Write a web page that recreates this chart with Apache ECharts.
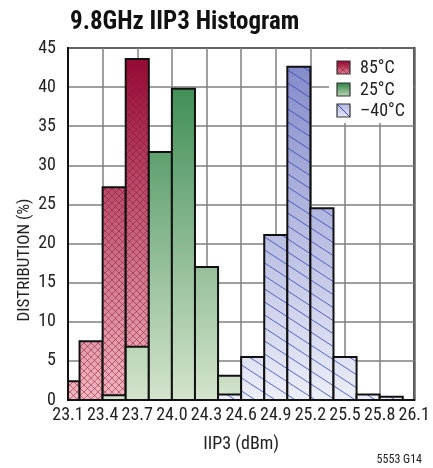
<!DOCTYPE html>
<html><head><meta charset="utf-8">
<script src="https://cdn.jsdelivr.net/npm/echarts@6/dist/echarts.min.js"></script>
<style>html,body{margin:0;padding:0;background:#fff}#c{width:433px;height:468px}</style>
</head><body><div id="c"></div>
<script>
// ---- data ----
const binCenters = [23.1, 23.3, 23.5, 23.7, 23.9, 24.1, 24.3, 24.5, 24.7, 24.9, 25.1, 25.3, 25.5, 25.7, 25.9];
const BIN_WIDTH = 0.2;
const t85 = [2.4, 7.5, 27.2, 43.6, 0, 0, 0, 0, 0, 0, 0, 0, 0, 0, 0];
const t25 = [0, 0, 0.6, 6.8, 31.7, 39.8, 17.0, 3.1, 0, 0, 0, 0, 0, 0, 0];
const tm40 = [0, 0, 0, 0, 0, 0, 0, 0.7, 5.5, 21.1, 42.6, 24.5, 5.5, 0.7, 0.4];
const seriesNames = ['85°C', '25°C', '\u201340°C'];
const xTicks = {min: 23.1, max: 26.1, interval: 0.3};
const yTicks = {min: 0, max: 45, interval: 5};

const FONT = "'Roboto Condensed', 'DejaVu Sans Condensed', sans-serif";

function makePattern(kind) {
  const cv = document.createElement('canvas');
  if (kind === 'cross') {
    const s = 7;
    cv.width = s; cv.height = s;
    const g = cv.getContext('2d');
    g.strokeStyle = 'rgba(150,10,50,0.5)';
    g.lineWidth = 1;
    g.beginPath();
    g.moveTo(0, 0); g.lineTo(s, s);
    g.moveTo(0, s); g.lineTo(s, 0);
    g.stroke();
  } else {
    const w = 20, h = 13;
    cv.width = w; cv.height = h;
    const g = cv.getContext('2d');
    g.strokeStyle = 'rgba(50,70,180,0.8)';
    g.lineWidth = 1;
    g.beginPath();
    for (let k = -1; k <= 1; k++) {
      g.moveTo(0, k * h); g.lineTo(w, k * h + h);
    }
    g.stroke();
  }
  return {image: cv, repeat: 'repeat'};
}

const styles = [
  {stops: [[0, '#920530'], [1, '#f0b8c0']], pattern: makePattern('cross')},
  {stops: [[0, '#2e8448'], [1, '#d4e4cc']], pattern: null},
  {stops: [[0, '#7f86c8'], [1, '#eceef8']], pattern: makePattern('diag')}
];

function makeRender(st) {
  return function (params, api) {
    const c = api.value(0), v = api.value(1);
    if (!v) return null;
    const x0 = Math.max(c - BIN_WIDTH / 2, xTicks.min);
    const x1 = Math.min(c + BIN_WIDTH / 2, xTicks.max);
    const p0 = api.coord([x0, v]);
    const p1 = api.coord([x1, 0]);
    const top = api.coord([xTicks.min, yTicks.max])[1];
    const bottom = api.coord([xTicks.min, 0])[1];
    const shape = {x: p0[0], y: p0[1], width: p1[0] - p0[0], height: p1[1] - p0[1]};
    const grad = {type: 'linear', x: 0, y: top, x2: 0, y2: bottom, global: true,
      colorStops: st.stops.map(s => ({offset: s[0], color: s[1]}))};
    const children = [{type: 'rect', shape: shape, style: {fill: grad}}];
    if (st.pattern) children.push({type: 'rect', shape: shape, style: {fill: st.pattern}});
    children.push({type: 'rect', shape: shape, style: {fill: 'none', stroke: '#111', lineWidth: 2}});
    return {type: 'group', children: children};
  };
}

const allData = [t85, t25, tm40];
const series = allData.map((arr, i) => ({
  type: 'custom',
  name: seriesNames[i],
  renderItem: makeRender(styles[i]),
  data: binCenters.map((c, j) => [c, arr[j]]),
  encode: {x: 0, y: 1},
  z: 2 + i
}));

// legend graphics
const legendItems = [];
const icoX = 337, icoY = [61, 83, 104], ico = 13;
const icoStops = [
  [[0, '#920530'], [1, '#e07f90']],
  [[0, '#2e8448'], [1, '#b8d4b0']],
  [[0, '#b0b6e4'], [1, '#e4e6f6']]
];
legendItems.push({type: 'rect', shape: {x: 329, y: 49, width: 84, height: 74}, style: {fill: '#fff'}, z: 1});
seriesNames.forEach((n, i) => {
  legendItems.push({type: 'rect', shape: {x: icoX, y: icoY[i], width: ico, height: ico},
    style: {fill: {type: 'linear', x: 0, y: 0, x2: 0, y2: 1, colorStops: icoStops[i].map(s => ({offset: s[0], color: s[1]}))}}, z: 2});
  if (i === 0) legendItems.push({type: 'rect', shape: {x: icoX, y: icoY[i], width: ico, height: ico}, style: {fill: styles[0].pattern}, z: 3});
  if (i === 2) legendItems.push({type: 'line', shape: {x1: icoX, y1: icoY[i], x2: icoX + ico, y2: icoY[i] + ico}, style: {stroke: '#3a4ab0', lineWidth: 1}, z: 3});
  legendItems.push({type: 'rect', shape: {x: icoX, y: icoY[i], width: ico, height: ico}, style: {fill: 'none', stroke: '#333', lineWidth: 1.2}, z: 4});
  legendItems.push({type: 'text', x: 360, y: icoY[i] + ico / 2 + 1, style: {text: n, font: '18px ' + FONT, fill: '#222', verticalAlign: 'middle', align: 'left'}, z: 4});
});

const chart = echarts.init(document.getElementById('c'), null, {renderer: 'canvas'});
chart.setOption({
  animation: false,
  backgroundColor: '#fff',
  title: {text: '9.8GHz IIP3 Histogram', left: 65, top: 5,
    textStyle: {fontFamily: FONT, fontSize: 25, fontWeight: 'bold', color: '#111'}},
  grid: {left: 68, right: 13, top: 48, bottom: 68, show: true, borderColor: '#111', borderWidth: 2, containLabel: false},
  xAxis: {
    type: 'value', min: xTicks.min, max: xTicks.max, interval: xTicks.interval,
    name: 'IIP3 (dBm)', nameLocation: 'middle', nameGap: 35,
    nameTextStyle: {fontFamily: FONT, fontSize: 18, color: '#222'},
    axisLine: {show: true, lineStyle: {color: '#111', width: 2}},
    axisTick: {show: false},
    axisLabel: {fontFamily: FONT, fontSize: 18, color: '#222', margin: 6,
      showMinLabel: true, showMaxLabel: true, hideOverlap: false,
      formatter: v => Number(v).toFixed(1)},
    splitLine: {show: true, lineStyle: {color: '#808080', width: 1.5}}
  },
  yAxis: {
    type: 'value', min: yTicks.min, max: yTicks.max, interval: yTicks.interval,
    axisLine: {show: true, lineStyle: {color: '#111', width: 2}},
    axisTick: {show: false},
    axisLabel: {fontFamily: FONT, fontSize: 18, color: '#222', margin: 12},
    splitLine: {show: true, lineStyle: {color: '#808080', width: 1.5}}
  },
  graphic: [
    {type: 'group', children: legendItems, z: 10},
    {type: 'text', x: 25, y: 260, rotation: Math.PI / 2,
      style: {text: 'DISTRIBUTION (%)', font: '17px ' + FONT, fill: '#222', align: 'center', verticalAlign: 'middle'}},
    {type: 'text', right: 11, bottom: 2,
      style: {text: '5553 G14', font: '12px ' + FONT, fill: '#222'}}
  ],
  series: series
});
</script></body></html>
